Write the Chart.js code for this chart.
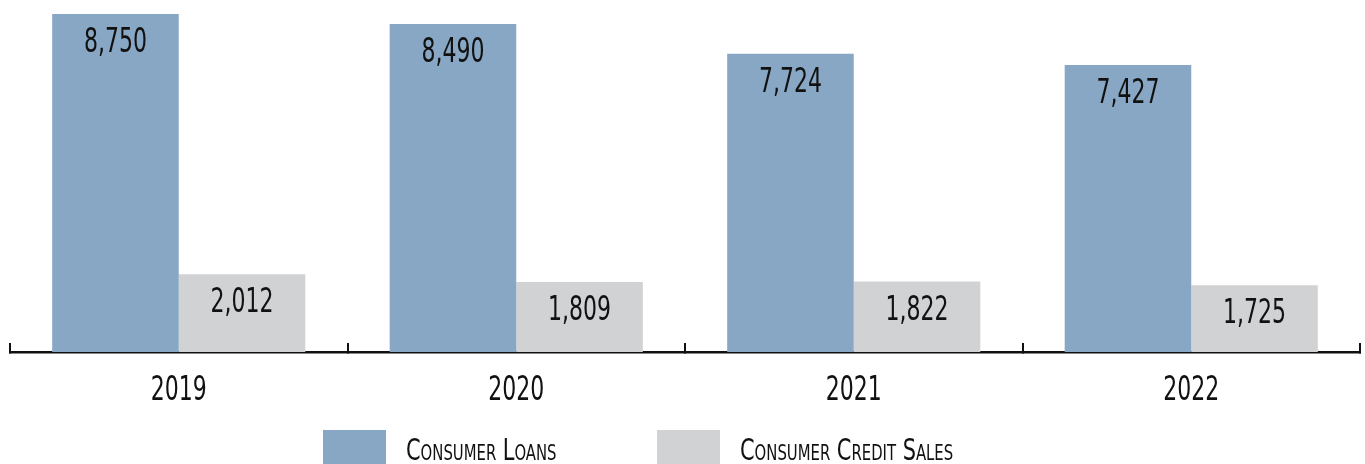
<!DOCTYPE html>
<html>
<head>
<meta charset="utf-8">
<script src="https://cdn.jsdelivr.net/npm/chart.js@4"></script>
<style>
  html, body { margin: 0; padding: 0; background: #fff; }
  #wrap { position: relative; width: 1365px; height: 464px; overflow: hidden; }
  #box { position: absolute; left: 0; top: 0; width: 1365px; height: 450px; }
  #legend { position: absolute; left: 323px; top: 430px; display: flex; }
  .item { display: flex; align-items: flex-start; width: 334px; white-space: nowrap; }
  .item .sw { width: 63px; height: 34px; margin-right: 20px; flex: none; }
  .item span { font-family: "DejaVu Sans Condensed", "DejaVu Sans", sans-serif;
    font-variant: small-caps; font-size: 31px; line-height: 31px; color: #111;
    margin-top: 4px; display: inline-block; transform: scaleX(0.75); transform-origin: left center; }
</style>
</head>
<body>
<div id="wrap">
  <div id="box"><canvas id="chart"></canvas></div>
  <div id="legend"></div>
</div>
<script>
const years = ['2019', '2020', '2021', '2022'];
const consumerLoans = [8750, 8490, 7724, 7427];
const consumerCreditSales = [2012, 1809, 1822, 1725];
const seriesNames = ['Consumer Loans', 'Consumer Credit Sales'];
const seriesColors = ['#88a7c4', '#d1d2d4'];

const narrow = '"DejaVu Sans Condensed", "DejaVu Sans", sans-serif';

// squeezed text, to look like the condensed face of the original
function squeezed(ctx, text, x, y) {
  ctx.save();
  ctx.font = '34px ' + narrow;
  ctx.fillStyle = '#111';
  ctx.textAlign = 'center';
  ctx.textBaseline = 'alphabetic';
  ctx.translate(x, y);
  ctx.scale(0.72, 1);
  ctx.fillText(text, 0, 0);
  ctx.restore();
}

// value labels inside the top of each bar + year labels under the axis
const textLabels = {
  id: 'textLabels',
  afterDatasetsDraw(chart) {
    chart.data.datasets.forEach((ds, i) => {
      chart.getDatasetMeta(i).data.forEach((bar, j) => {
        squeezed(chart.ctx, ds.data[j].toLocaleString('en-US'), bar.x, bar.y + 38);
      });
    });
  },
  afterDraw(chart) {
    const xs = chart.scales.x;
    xs.ticks.forEach((t, i) => {
      squeezed(chart.ctx, xs.getLabelForValue(t.value), xs.getPixelForTick(i), xs.top + 48);
    });
  }
};

new Chart(document.getElementById('chart'), {
  type: 'bar',
  data: {
    labels: years,
    datasets: [
      { label: seriesNames[0], data: consumerLoans, backgroundColor: seriesColors[0] },
      { label: seriesNames[1], data: consumerCreditSales, backgroundColor: seriesColors[1] }
    ]
  },
  options: {
    responsive: true,
    maintainAspectRatio: false,
    animation: false,
    events: [],
    layout: { padding: { left: 10, right: 5, top: 14, bottom: 98 } },
    datasets: { bar: { categoryPercentage: 0.75, barPercentage: 1 } },
    plugins: { legend: { display: false }, tooltip: { enabled: false } },
    scales: {
      x: {
        grid: {
          offset: true,
          drawOnChartArea: false,
          drawTicks: true,
          tickLength: -9,
          color: '#111',
          lineWidth: 2
        },
        border: { display: true, color: '#111', width: 2.5 },
        ticks: { display: false }
      },
      y: { display: false, min: 0, max: 8750 }
    }
  },
  plugins: [textLabels]
});

const legend = document.getElementById('legend');
seriesNames.forEach((name, i) => {
  const item = document.createElement('div');
  item.className = 'item';
  const sw = document.createElement('div');
  sw.className = 'sw';
  sw.style.background = seriesColors[i];
  const txt = document.createElement('span');
  txt.textContent = name;
  item.appendChild(sw);
  item.appendChild(txt);
  legend.appendChild(item);
});
</script>
</body>
</html>
